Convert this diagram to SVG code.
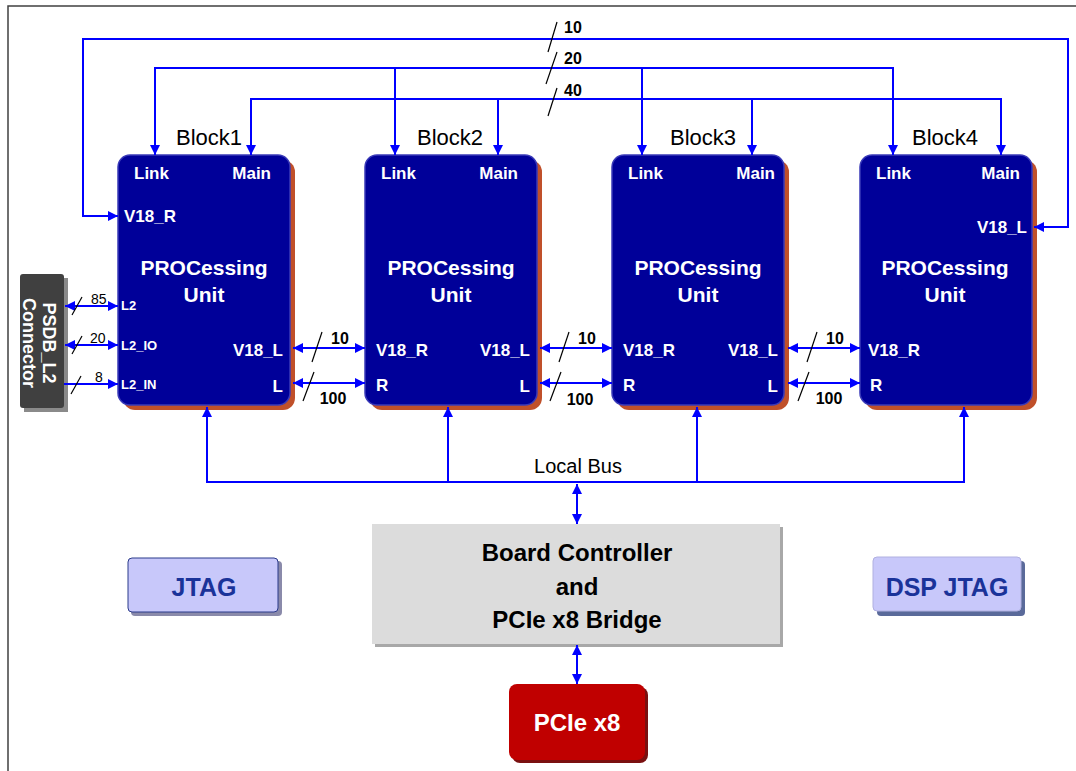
<svg xmlns="http://www.w3.org/2000/svg" width="1076" height="771" viewBox="0 0 1076 771">
<style>
.wire{fill:none;stroke:#0000ff;stroke-width:2}
.slash{stroke:#000;stroke-width:1.2}
.blk{fill:#000099;stroke:#3a3ab8;stroke-width:1.5}
.shd{fill:#c0502a}
.wt{fill:#fff;font-family:"Liberation Sans",Arial,sans-serif;font-weight:bold}
.bk{fill:#000;font-family:"Liberation Sans",Arial,sans-serif}
.lbl{font-size:16px;font-weight:bold}
.sm{font-size:14px}
.port{font-size:17px}
.pu{font-size:21px}
.bt{font-size:22px}
.jt{fill:#1a3399;font-family:"Liberation Sans",Arial,sans-serif;font-weight:bold;font-size:25px}
</style>
<defs>
<marker id="ah" markerUnits="userSpaceOnUse" markerWidth="10" markerHeight="10" refX="10" refY="5" orient="auto-start-reverse">
<path d="M0,0 L10,5 L0,10 z" fill="#0000ff"/>
</marker>
</defs>
<g id="frame"><path d="M8,771 V6 H1076" fill="none" stroke="#404040" stroke-width="1.5"/></g>

<g id="block1">
<rect class="shd" x="123" y="160" width="172" height="250" rx="12"/>
<rect class="blk" x="118" y="155" width="172" height="250" rx="12"/>
<text class="bk bt" x="209" y="145" text-anchor="middle">Block1</text>
<text class="wt port" x="134" y="179">Link</text>
<text class="wt port" x="271" y="179" text-anchor="end">Main</text>
<text class="wt port" x="124" y="222">V18_R</text>
<text class="wt pu" x="204" y="275" text-anchor="middle">PROCessing</text>
<text class="wt pu" x="204" y="302" text-anchor="middle">Unit</text>
<text class="wt" x="121" y="310" font-size="13">L2</text>
<text class="wt" x="121" y="350" font-size="13">L2_IO</text>
<text class="wt" x="121" y="389" font-size="13">L2_IN</text>
<text class="wt port" x="283" y="356" text-anchor="end">V18_L</text>
<text class="wt port" x="283" y="392" text-anchor="end">L</text>
</g>

<g id="block2">
<rect class="shd" x="370" y="160" width="172" height="250" rx="12"/>
<rect class="blk" x="365" y="155" width="172" height="250" rx="12"/>
<text class="bk bt" x="450" y="145" text-anchor="middle">Block2</text>
<text class="wt port" x="381" y="179">Link</text>
<text class="wt port" x="518" y="179" text-anchor="end">Main</text>
<text class="wt pu" x="451" y="275" text-anchor="middle">PROCessing</text>
<text class="wt pu" x="451" y="302" text-anchor="middle">Unit</text>
<text class="wt port" x="376" y="356">V18_R</text>
<text class="wt port" x="376" y="391">R</text>
<text class="wt port" x="530" y="356" text-anchor="end">V18_L</text>
<text class="wt port" x="530" y="392" text-anchor="end">L</text>
</g>

<g id="block3">
<rect class="shd" x="617" y="160" width="172" height="250" rx="12"/>
<rect class="blk" x="612" y="155" width="172" height="250" rx="12"/>
<text class="bk bt" x="703" y="145" text-anchor="middle">Block3</text>
<text class="wt port" x="628" y="179">Link</text>
<text class="wt port" x="775" y="179" text-anchor="end">Main</text>
<text class="wt pu" x="698" y="275" text-anchor="middle">PROCessing</text>
<text class="wt pu" x="698" y="302" text-anchor="middle">Unit</text>
<text class="wt port" x="623" y="356">V18_R</text>
<text class="wt port" x="623" y="391">R</text>
<text class="wt port" x="778" y="356" text-anchor="end">V18_L</text>
<text class="wt port" x="778" y="392" text-anchor="end">L</text>
</g>

<g id="block4">
<rect class="shd" x="865" y="160" width="172" height="250" rx="12"/>
<rect class="blk" x="860" y="155" width="172" height="250" rx="12"/>
<text class="bk bt" x="945" y="145" text-anchor="middle">Block4</text>
<text class="wt port" x="876" y="179">Link</text>
<text class="wt port" x="1020" y="179" text-anchor="end">Main</text>
<text class="wt port" x="1027" y="233" text-anchor="end">V18_L</text>
<text class="wt pu" x="945" y="275" text-anchor="middle">PROCessing</text>
<text class="wt pu" x="945" y="302" text-anchor="middle">Unit</text>
<text class="wt port" x="868" y="356">V18_R</text>
<text class="wt port" x="870" y="391">R</text>
</g>

<g id="psdb">
<rect x="24" y="278" width="44" height="134" fill="#8a8a8a"/>
<rect x="20" y="274" width="44" height="134" rx="3" fill="#404040"/>
<text class="wt" font-size="18" text-anchor="middle" transform="translate(43,343) rotate(90)">PSDB_L2</text>
<text class="wt" font-size="18" text-anchor="middle" transform="translate(23,343) rotate(90)">Connector</text>
</g>

<g id="board">
<rect x="375" y="527" width="408" height="120" fill="#a8a8a8"/>
<rect x="372" y="524" width="408" height="120" fill="#dcdcdc"/>
<text class="bk" x="577" y="561" font-size="24" font-weight="bold" text-anchor="middle">Board Controller</text>
<text class="bk" x="577" y="595" font-size="24" font-weight="bold" text-anchor="middle">and</text>
<text class="bk" x="577" y="628" font-size="24" font-weight="bold" text-anchor="middle">PCIe x8 Bridge</text>
</g>

<g id="pcie">
<rect x="512" y="687" width="136" height="76" rx="8" fill="#7a1010"/>
<rect x="509" y="684" width="136" height="76" rx="8" fill="#c00000"/>
<text class="wt" x="577" y="731" font-size="24" text-anchor="middle">PCIe x8</text>
</g>

<g id="jtag">
<rect x="131" y="561" width="151" height="55" rx="4" fill="#8a8aaa"/>
<rect x="128" y="558" width="150" height="54" rx="4" fill="#c8c8fa" stroke="#2a3a8a" stroke-width="1"/>
<text class="jt" x="204" y="596" text-anchor="middle">JTAG</text>
</g>

<g id="dspjtag">
<rect x="877" y="561" width="148" height="55" rx="4" fill="#5a6a9a"/>
<rect x="873" y="557" width="148" height="54" rx="4" fill="#c8c8fa" stroke="#b0b0e0" stroke-width="1"/>
<text class="jt" x="947" y="596" text-anchor="middle">DSP JTAG</text>
</g>

<g id="connectors">
<path class="wire" d="M118,216 H83 V39 H1068 V227 H1034" marker-start="url(#ah)" marker-end="url(#ah)"/>
<path class="wire" d="M155,155 V68 H893 V155" marker-start="url(#ah)" marker-end="url(#ah)"/>
<path class="wire" d="M395,68 V155" marker-end="url(#ah)"/>
<path class="wire" d="M642,68 V155" marker-end="url(#ah)"/>
<path class="wire" d="M251,155 V99 H1001 V155" marker-start="url(#ah)" marker-end="url(#ah)"/>
<path class="wire" d="M498,99 V155" marker-end="url(#ah)"/>
<path class="wire" d="M752,99 V155" marker-end="url(#ah)"/>
<line class="slash" x1="548" y1="52" x2="557" y2="22"/>
<line class="slash" x1="546" y1="84" x2="557" y2="52"/>
<line class="slash" x1="548" y1="116" x2="557" y2="88"/>
<text class="bk lbl" x="564" y="33">10</text>
<text class="bk lbl" x="564" y="64">20</text>
<text class="bk lbl" x="564" y="96">40</text>

<path class="wire" d="M65,306 H118" marker-start="url(#ah)" marker-end="url(#ah)"/>
<path class="wire" d="M65,345 H118" marker-start="url(#ah)" marker-end="url(#ah)"/>
<path class="wire" d="M64,384 H118" marker-end="url(#ah)"/>
<line class="slash" x1="72" y1="315" x2="82" y2="297"/>
<line class="slash" x1="72" y1="354" x2="82" y2="336"/>
<line class="slash" x1="71" y1="394" x2="81" y2="376"/>
<text class="bk sm" x="91" y="304">85</text>
<text class="bk sm" x="90" y="343">20</text>
<text class="bk sm" x="95" y="382">8</text>

<path class="wire" d="M293,348 H365" marker-start="url(#ah)" marker-end="url(#ah)"/>
<path class="wire" d="M293,383 H365" marker-start="url(#ah)" marker-end="url(#ah)"/>
<line class="slash" x1="312" y1="362" x2="322" y2="332"/>
<line class="slash" x1="303" y1="401" x2="314" y2="372"/>
<text class="bk lbl" x="340" y="344" text-anchor="middle">10</text>
<text class="bk lbl" x="333" y="404" text-anchor="middle">100</text>

<path class="wire" d="M540,348 H612" marker-start="url(#ah)" marker-end="url(#ah)"/>
<path class="wire" d="M540,383 H612" marker-start="url(#ah)" marker-end="url(#ah)"/>
<line class="slash" x1="559" y1="362" x2="569" y2="332"/>
<line class="slash" x1="550" y1="401" x2="561" y2="372"/>
<text class="bk lbl" x="587" y="344" text-anchor="middle">10</text>
<text class="bk lbl" x="580" y="405" text-anchor="middle">100</text>

<path class="wire" d="M788,348 H860" marker-start="url(#ah)" marker-end="url(#ah)"/>
<path class="wire" d="M788,383 H860" marker-start="url(#ah)" marker-end="url(#ah)"/>
<line class="slash" x1="807" y1="362" x2="817" y2="332"/>
<line class="slash" x1="798" y1="401" x2="809" y2="372"/>
<text class="bk lbl" x="835" y="344" text-anchor="middle">10</text>
<text class="bk lbl" x="829" y="404" text-anchor="middle">100</text>

<path class="wire" d="M207,407 V482 H964 V407" marker-start="url(#ah)" marker-end="url(#ah)"/>
<path class="wire" d="M448,482 V407" marker-end="url(#ah)"/>
<path class="wire" d="M697,482 V407" marker-end="url(#ah)"/>
<text class="bk" x="578" y="473" font-size="20" text-anchor="middle">Local Bus</text>
<path class="wire" d="M577,484 V524" marker-start="url(#ah)" marker-end="url(#ah)"/>
<path class="wire" d="M577,645 V684" marker-start="url(#ah)" marker-end="url(#ah)"/>
</g>
</svg>
